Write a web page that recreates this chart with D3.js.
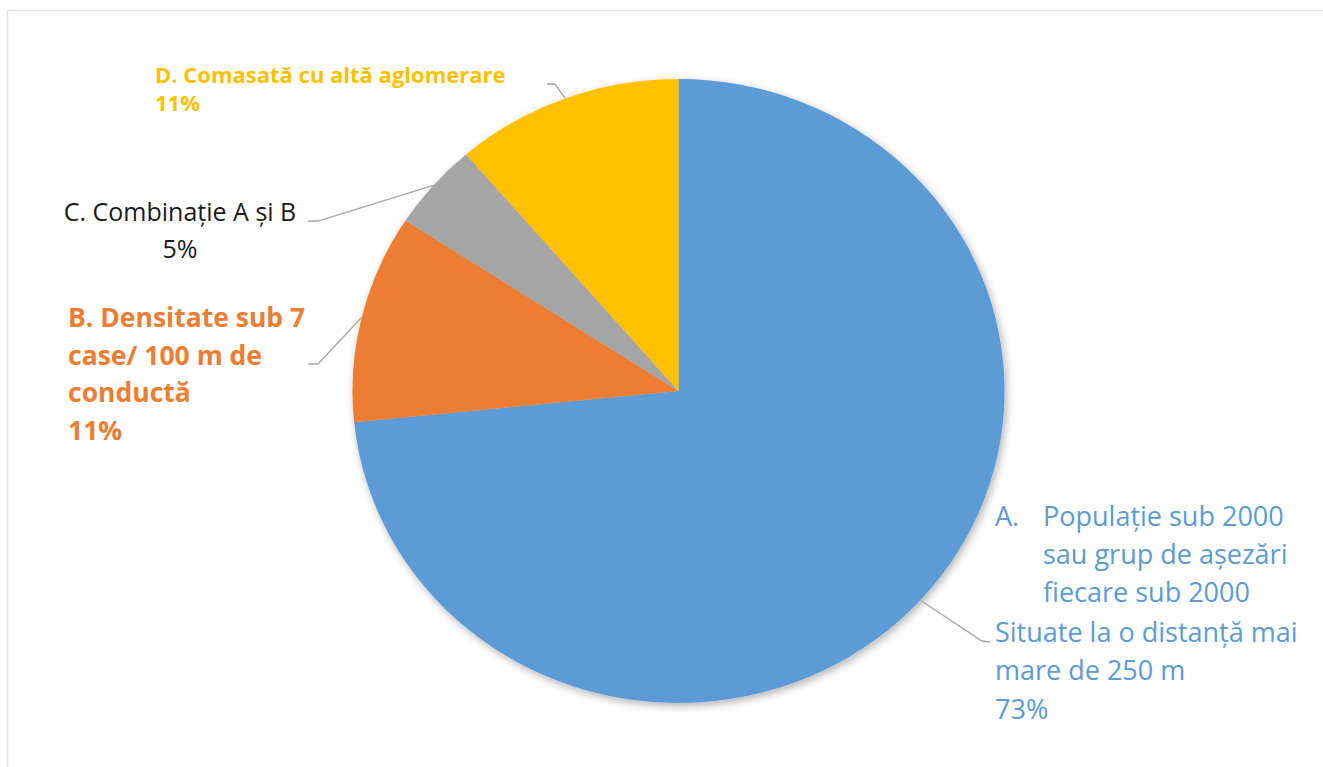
<!DOCTYPE html>
<html lang="ro">
<head>
<meta charset="UTF-8">
<title>Pie chart</title>
<script src="https://d3js.org/d3.v7.min.js"></script>
<style>
  html, body { margin: 0; padding: 0; background: #fff; }
  text { font-family: 'Open Sans', 'Lato', sans-serif; }
</style>
</head>
<body>
<div id="chart"></div>
<script>
// slices in drawing order (clockwise from 12 o'clock)
var categories = ["A", "B", "C", "D"];
var values = [73.4, 10.8, 4.5, 11.3];
var colors = ["#5b9bd5", "#ed7d31", "#a5a5a5", "#ffc000"];
var labelLines = [
  ["A.", "Populaţie sub 2000", "sau grup de aşezări", "fiecare sub 2000", "Situate la o distanţă mai", "mare de 250 m"],
  ["B. Densitate sub 7", "case/ 100 m de", "conductă"],
  ["C. Combinaţie A şi B"],
  ["D. Comasată cu altă aglomerare"]
];

var width = 1323, height = 767;
var cx = 678.5, cy = 391, r = 312, sx = 1.045;

var svg = d3.select("#chart")
  .append("svg")
  .attr("width", width)
  .attr("height", height);

var defs = svg.append("defs");
var f = defs.append("filter").attr("id", "shadow")
  .attr("x", "-10%").attr("y", "-10%").attr("width", "120%").attr("height", "120%");
f.append("feDropShadow")
  .attr("dx", 2).attr("dy", 3).attr("stdDeviation", 4)
  .attr("flood-color", "#000").attr("flood-opacity", 0.3);

// chart area border
svg.append("path")
  .attr("d", "M7.5," + height + " V10.5 H" + width)
  .attr("fill", "none")
  .attr("stroke", "#e3e3e3")
  .attr("stroke-width", 1.5);

var pie = d3.pie().sort(null).value(function(d) { return d; });
var arcs = pie(values);
var arc = d3.arc().innerRadius(0).outerRadius(r);

var g = svg.append("g")
  .attr("transform", "translate(" + cx + "," + cy + ") scale(" + sx + ",1)")
  .attr("filter", "url(#shadow)");

g.selectAll("path")
  .data(arcs)
  .enter()
  .append("path")
  .attr("d", arc)
  .attr("fill", function(d, i) { return colors[i]; });

// point on the rim at a slice's middle angle, in page coords
function rim(d) {
  var a = (d.startAngle + d.endAngle) / 2;
  return [cx + Math.sin(a) * r * sx, cy - Math.cos(a) * r];
}

var pct = function(v) { return Math.round(v / d3.sum(values) * 100) + "%"; };

// leader lines: rim -> elbow -> end
var elbows = [[[982, 641], [990, 642]], [[318, 364], [308, 364]], [[318, 221], [308, 221]], [[555, 84], [547, 84]]];
var line = d3.line();
svg.append("g").selectAll("path")
  .data(arcs)
  .enter()
  .append("path")
  .attr("d", function(d, i) { return line([rim(d)].concat(elbows[i])); })
  .attr("fill", "none")
  .attr("stroke", "#a6a6a6")
  .attr("stroke-width", 1.3);

// A label
var ta = svg.append("g").attr("fill", "#5b9bd5").style("font-size", "27px");
var aX = [995, 1043, 1043, 1043, 995, 995];
var aY = [526, 526, 564, 602, 642, 680];
labelLines[0].forEach(function(t, i) {
  ta.append("text").attr("x", aX[i]).attr("y", aY[i]).text(t);
});
ta.append("text").attr("x", 995).attr("y", 719).text(pct(values[0]));

// B label
var tb = svg.append("g").attr("fill", "#ed7d31").style("font-size", "26.5px").style("font-weight", "bold");
labelLines[1].concat([pct(values[1])]).forEach(function(t, i) {
  tb.append("text").attr("x", 68).attr("y", 327 + i * 37.7).text(t);
});

// C label
var tc = svg.append("g").attr("fill", "#1a1a1a").style("font-size", "25px").attr("text-anchor", "middle");
labelLines[2].concat([pct(values[2])]).forEach(function(t, i) {
  tc.append("text").attr("x", 180).attr("y", 221 + i * 37).text(t);
});

// D label
var td = svg.append("g").attr("fill", "#ffc000").style("font-size", "22px").style("font-weight", "bold");
labelLines[3].concat([pct(values[3])]).forEach(function(t, i) {
  td.append("text").attr("x", 155).attr("y", 83 + i * 28).text(t);
});
</script>
</body>
</html>
